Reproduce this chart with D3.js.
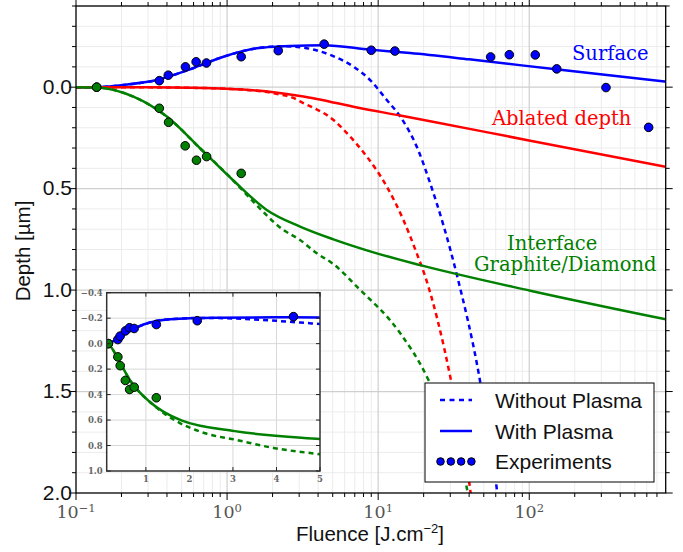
<!DOCTYPE html>
<html>
<head>
<meta charset="utf-8">
<script src="https://cdn.jsdelivr.net/npm/d3@7"></script>
<style>
  html, body { margin: 0; padding: 0; background: #fff; }
  svg { display: block; }
</style>
</head>
<body>
<svg id="chart" width="683" height="552"></svg>
<script>
// ---- Experimental points (fluence J/cm², depth µm; negative = above the initial surface)
const expSurfaceFluence = [0.137, 0.356, 0.408, 0.53, 0.624, 0.73, 1.24, 2.18, 4.39, 9.0, 12.9, 55.5, 73.8, 109.6, 152, 322, 617];
const expSurfaceDepth   = [0, -0.032, -0.059, -0.10, -0.125, -0.119, -0.15, -0.18, -0.212, -0.182, -0.178, -0.149, -0.16, -0.159, -0.09, 0.002, 0.198];
const expInterfaceFluence = [0.137, 0.356, 0.41, 0.528, 0.627, 0.732, 1.24];
const expInterfaceDepth   = [0, 0.104, 0.173, 0.289, 0.36, 0.342, 0.425];

// ---- Model: surface position
const surfPlasmaF = [0.1, 0.137, 0.206, 0.342, 0.569, 0.945, 1.57, 2.61, 4.35, 8.85, 16.3, 40, 150, 800];
const surfPlasma  = [0, 0, -0.011, -0.035, -0.088, -0.150, -0.192, -0.203, -0.207, -0.185, -0.168, -0.137, -0.088, -0.027];
const surfNoPlasmaF = [0.1, 0.137, 0.206, 0.342, 0.569, 0.945, 1.57, 2.3, 3.04, 4.81, 6.87, 8.85, 11.4, 14.0, 18.0, 22.1, 33.2, 46.7, 61.1, 66];
const surfNoPlasma  = [0, 0, -0.011, -0.035, -0.088, -0.150, -0.192, -0.202, -0.197, -0.159, -0.101, -0.035, 0.063, 0.145, 0.293, 0.474, 0.926, 1.427, 1.985, 2.2];

// ---- Model: ablated depth
const ablPlasmaF = [0.1, 0.309, 0.569, 1.0, 1.57, 2.03, 3.04, 3.93, 7.23, 14.0, 22.1, 50, 101.6, 800];
const ablPlasma  = [0, 0.001, 0.003, 0.008, 0.017, 0.025, 0.043, 0.058, 0.1, 0.140, 0.168, 0.219, 0.264, 0.392];
const ablNoPlasmaF = [0.1, 0.309, 0.569, 1.0, 1.57, 2.2, 2.75, 3.04, 5.06, 6.53, 8.41, 11.4, 14.7, 18.0, 20.5, 30.0, 40.6, 44];
const ablNoPlasma  = [0, 0.001, 0.003, 0.008, 0.018, 0.035, 0.053, 0.07, 0.162, 0.244, 0.342, 0.49, 0.655, 0.819, 0.934, 1.427, 1.98, 2.2];

// ---- Model: graphite/diamond interface
const ifPlasmaF = [0.1, 0.137, 0.24, 0.399, 0.662, 1.10, 1.83, 3.04, 5.06, 9.79, 19.0, 101.6, 800];
const ifPlasma  = [0, 0.002, 0.047, 0.145, 0.301, 0.46, 0.605, 0.687, 0.75, 0.819, 0.877, 1.003, 1.144];
const ifNoPlasmaF = [0.1, 0.137, 0.24, 0.399, 0.662, 1.10, 1.42, 2.36, 3.04, 3.93, 5.06, 7.23, 14.0, 21.0, 38.6, 42];
const ifNoPlasma  = [0, 0.002, 0.047, 0.145, 0.301, 0.46, 0.548, 0.704, 0.753, 0.819, 0.872, 0.983, 1.213, 1.427, 1.975, 2.2];

// ---- Axis ticks
const xTickExponents = [-1, 0, 1, 2];
const yTickValues = [0.0, 0.5, 1.0, 1.5, 2.0];
const yTickLabels = ["0.0", "0.5", "1.0", "1.5", "2.0"];
const insetXTicks = [1, 2, 3, 4, 5];
const insetYTicks = [-0.4, -0.2, 0.0, 0.2, 0.4, 0.6, 0.8, 1.0];
const insetYTickLabels = ["\u22120.4", "\u22120.2", "0.0", "0.2", "0.4", "0.6", "0.8", "1.0"];

const legendLabels = ["Without Plasma", "With Plasma", "Experiments"];

const BLUE = "#0000ff", RED = "#ff0000", GREEN = "#008000";

const zip = (xs, ys) => xs.map((x, i) => [x, ys[i]]);

const svg = d3.select("#chart");

// ================= Main plot =================
const M = { left: 76, right: 665.7, top: 6, bottom: 493 };
const x = d3.scaleLog().domain([0.1, 800]).range([M.left, M.right]);
const y = d3.scaleLinear().domain([-0.4, 2.0]).range([M.top, M.bottom]);

const defs = svg.append("defs");
defs.append("clipPath").attr("id", "mainClip")
  .append("rect").attr("x", M.left).attr("y", M.top)
  .attr("width", M.right - M.left).attr("height", M.bottom - M.top);

// Grid
const xMinor = [];
for (let e = -1; e <= 2; e++) for (let m = 2; m <= 9; m++) {
  const v = m * Math.pow(10, e);
  if (v < 800) xMinor.push(v);
}
const xMajor = xTickExponents.map(e => Math.pow(10, e));
const yMinor = d3.range(-4, 21).map(i => i / 10).filter(v => Math.abs(v * 2 - Math.round(v * 2)) > 1e-6);
const yMajor = [0.0, 0.5, 1.0, 1.5];

const grid = svg.append("g");
grid.selectAll(".gxm").data(xMinor).join("line")
  .attr("x1", d => x(d)).attr("x2", d => x(d)).attr("y1", M.top).attr("y2", M.bottom)
  .attr("stroke", "#ececec").attr("stroke-width", 1);
grid.selectAll(".gym").data(yMinor).join("line")
  .attr("y1", d => y(d)).attr("y2", d => y(d)).attr("x1", M.left).attr("x2", M.right)
  .attr("stroke", "#ececec").attr("stroke-width", 1);
grid.selectAll(".gxM").data(xMajor.slice(1)).join("line")
  .attr("x1", d => x(d)).attr("x2", d => x(d)).attr("y1", M.top).attr("y2", M.bottom)
  .attr("stroke", "#cfcfcf").attr("stroke-width", 1.2);
grid.selectAll(".gyM").data(yMajor).join("line")
  .attr("y1", d => y(d)).attr("y2", d => y(d)).attr("x1", M.left).attr("x2", M.right)
  .attr("stroke", "#cfcfcf").attr("stroke-width", 1.2);

// Curves: dashed (without plasma) underneath, solid (with plasma) on top
const lineMain = d3.line().x(d => x(d[0])).y(d => y(d[1])).curve(d3.curveMonotoneX);
const curvesG = svg.append("g").attr("clip-path", "url(#mainClip)");
const dashed = [
  [surfNoPlasmaF, surfNoPlasma, BLUE],
  [ablNoPlasmaF, ablNoPlasma, RED],
  [ifNoPlasmaF, ifNoPlasma, GREEN]
];
const solid = [
  [surfPlasmaF, surfPlasma, BLUE],
  [ablPlasmaF, ablPlasma, RED],
  [ifPlasmaF, ifPlasma, GREEN]
];
dashed.forEach(([fx, dy, c]) => {
  curvesG.append("path").attr("d", lineMain(zip(fx, dy)))
    .attr("fill", "none").attr("stroke", c).attr("stroke-width", 2.5)
    .attr("stroke-dasharray", "5,4");
});
solid.forEach(([fx, dy, c]) => {
  curvesG.append("path").attr("d", lineMain(zip(fx, dy)))
    .attr("fill", "none").attr("stroke", c).attr("stroke-width", 2.5);
});

// Experimental points
const ptsG = svg.append("g").attr("clip-path", "url(#mainClip)");
ptsG.selectAll(".ps").data(zip(expSurfaceFluence, expSurfaceDepth)).join("circle")
  .attr("cx", d => x(d[0])).attr("cy", d => y(d[1])).attr("r", 4.3)
  .attr("fill", BLUE).attr("stroke", "#000").attr("stroke-width", 1);
ptsG.selectAll(".pi").data(zip(expInterfaceFluence, expInterfaceDepth)).join("circle")
  .attr("cx", d => x(d[0])).attr("cy", d => y(d[1])).attr("r", 4.3)
  .attr("fill", GREEN).attr("stroke", "#000").attr("stroke-width", 1);

// Frame
svg.append("rect").attr("x", M.left).attr("y", M.top)
  .attr("width", M.right - M.left).attr("height", M.bottom - M.top)
  .attr("fill", "none").attr("stroke", "#000").attr("stroke-width", 1.3);

// Ticks (outward on all sides)
const tk = svg.append("g").attr("stroke", "#000").attr("stroke-width", 1);
xMinor.forEach(v => {
  tk.append("line").attr("x1", x(v)).attr("x2", x(v)).attr("y1", M.bottom).attr("y2", M.bottom + 4);
  tk.append("line").attr("x1", x(v)).attr("x2", x(v)).attr("y1", M.top).attr("y2", M.top - 4);
});
xMajor.forEach(v => {
  tk.append("line").attr("x1", x(v)).attr("x2", x(v)).attr("y1", M.bottom).attr("y2", M.bottom + 7);
  tk.append("line").attr("x1", x(v)).attr("x2", x(v)).attr("y1", M.top).attr("y2", M.top - 7);
});
yMinor.forEach(v => {
  tk.append("line").attr("y1", y(v)).attr("y2", y(v)).attr("x1", M.left).attr("x2", M.left - 4);
  tk.append("line").attr("y1", y(v)).attr("y2", y(v)).attr("x1", M.right).attr("x2", M.right + 4);
});
yTickValues.forEach(v => {
  tk.append("line").attr("y1", y(v)).attr("y2", y(v)).attr("x1", M.left).attr("x2", M.left - 7);
  tk.append("line").attr("y1", y(v)).attr("y2", y(v)).attr("x1", M.right).attr("x2", M.right + 7);
});

// Y tick labels
svg.append("g").selectAll("text").data(yTickValues).join("text")
  .attr("x", M.left - 4).attr("y", d => y(d) + 6.8)
  .attr("text-anchor", "end")
  .attr("font-family", "Liberation Sans, Arial, sans-serif").attr("font-size", 21)
  .attr("fill", "#111")
  .text((d, i) => yTickLabels[i]);

// X tick labels: 10^k
const xl = svg.append("g");
xTickExponents.forEach(e => {
  const t = xl.append("text")
    .attr("x", x(Math.pow(10, e))).attr("y", 518)
    .attr("text-anchor", "middle")
    .attr("font-family", "DejaVu Serif, serif").attr("font-size", 17.5)
    .attr("fill", "#555");
  t.append("tspan").text("10");
  t.append("tspan").attr("dy", -6.5).attr("font-size", 11.5)
    .text(e < 0 ? "\u2212" + Math.abs(e) : String(e));
});

// Axis titles
const xt = svg.append("text")
  .attr("x", 370).attr("y", 540.5).attr("text-anchor", "middle")
  .attr("font-family", "Liberation Sans, Arial, sans-serif").attr("font-size", 20.5)
  .attr("fill", "#111");
xt.append("tspan").text("Fluence [J.cm");
xt.append("tspan").attr("dy", -8).attr("font-size", 13).text("\u22122");
xt.append("tspan").attr("dy", 8).text("]");

svg.append("text")
  .attr("transform", "translate(30,251) rotate(-90)")
  .attr("text-anchor", "middle")
  .attr("font-family", "Liberation Sans, Arial, sans-serif").attr("font-size", 20.5)
  .attr("fill", "#111")
  .text("Depth [\u00b5m]");

// Curve annotations
const ann = svg.append("g").attr("font-family", "DejaVu Serif, serif").attr("font-size", 19.5);
ann.append("text").attr("x", 572).attr("y", 60).attr("fill", BLUE).text("Surface");
ann.append("text").attr("x", 492).attr("y", 125).attr("fill", RED).text("Ablated depth");
ann.append("text").attr("x", 507).attr("y", 250).attr("fill", GREEN).text("Interface");
ann.append("text").attr("x", 474).attr("y", 271).attr("fill", GREEN).text("Graphite/Diamond");

// ================= Inset (linear fluence axis) =================
const I = { left: 106.7, right: 320, top: 292.7, bottom: 471 };
const xi = d3.scaleLinear().domain([0.1, 5]).range([I.left, I.right]);
const yi = d3.scaleLinear().domain([-0.4, 1.0]).range([I.top, I.bottom]);

defs.append("clipPath").attr("id", "insetClip")
  .append("rect").attr("x", I.left).attr("y", I.top)
  .attr("width", I.right - I.left).attr("height", I.bottom - I.top);

const inset = svg.append("g");
inset.append("rect").attr("x", I.left).attr("y", I.top)
  .attr("width", I.right - I.left).attr("height", I.bottom - I.top)
  .attr("fill", "#fff");

inset.selectAll(".igx").data(insetXTicks.slice(0, -1)).join("line")
  .attr("x1", d => xi(d)).attr("x2", d => xi(d)).attr("y1", I.top).attr("y2", I.bottom)
  .attr("stroke", "#d8d8d8").attr("stroke-width", 1);
inset.selectAll(".igy").data(insetYTicks.slice(1, -1)).join("line")
  .attr("y1", d => yi(d)).attr("y2", d => yi(d)).attr("x1", I.left).attr("x2", I.right)
  .attr("stroke", "#d8d8d8").attr("stroke-width", 1);

const lineInset = d3.line().x(d => xi(d[0])).y(d => yi(d[1])).curve(d3.curveMonotoneX);
const ic = inset.append("g").attr("clip-path", "url(#insetClip)");
[[surfNoPlasmaF, surfNoPlasma, BLUE], [ifNoPlasmaF, ifNoPlasma, GREEN]].forEach(([fx, dy, c]) => {
  ic.append("path").attr("d", lineInset(zip(fx, dy)))
    .attr("fill", "none").attr("stroke", c).attr("stroke-width", 2.5)
    .attr("stroke-dasharray", "5,4");
});
[[surfPlasmaF, surfPlasma, BLUE], [ifPlasmaF, ifPlasma, GREEN]].forEach(([fx, dy, c]) => {
  ic.append("path").attr("d", lineInset(zip(fx, dy)))
    .attr("fill", "none").attr("stroke", c).attr("stroke-width", 2.5);
});
const ip = inset.append("g").attr("clip-path", "url(#insetClip)");
ip.selectAll(".ips").data(zip(expSurfaceFluence, expSurfaceDepth).filter(d => d[0] <= 5)).join("circle")
  .attr("cx", d => xi(d[0])).attr("cy", d => yi(d[1])).attr("r", 4.3)
  .attr("fill", BLUE).attr("stroke", "#000").attr("stroke-width", 1);
ip.selectAll(".ipi").data(zip(expInterfaceFluence, expInterfaceDepth)).join("circle")
  .attr("cx", d => xi(d[0])).attr("cy", d => yi(d[1])).attr("r", 4.3)
  .attr("fill", GREEN).attr("stroke", "#000").attr("stroke-width", 1);

// Inset frame and inward ticks
inset.append("rect").attr("x", I.left).attr("y", I.top)
  .attr("width", I.right - I.left).attr("height", I.bottom - I.top)
  .attr("fill", "none").attr("stroke", "#333").attr("stroke-width", 1.5);
const itk = inset.append("g").attr("stroke", "#222").attr("stroke-width", 1);
insetXTicks.forEach(v => {
  itk.append("line").attr("x1", xi(v)).attr("x2", xi(v)).attr("y1", I.bottom).attr("y2", I.bottom - 4);
  itk.append("line").attr("x1", xi(v)).attr("x2", xi(v)).attr("y1", I.top).attr("y2", I.top + 4);
});
insetYTicks.forEach(v => {
  itk.append("line").attr("y1", yi(v)).attr("y2", yi(v)).attr("x1", I.left).attr("x2", I.left + 4);
  itk.append("line").attr("y1", yi(v)).attr("y2", yi(v)).attr("x1", I.right).attr("x2", I.right - 4);
});
inset.append("g").selectAll("text").data(insetYTicks).join("text")
  .attr("x", I.left - 4).attr("y", d => yi(d) + 3.2)
  .attr("text-anchor", "end")
  .attr("font-family", "DejaVu Serif, serif").attr("font-size", 8.5).attr("font-weight", "bold")
  .attr("fill", "#666")
  .text((d, i) => insetYTickLabels[i]);
inset.append("g").selectAll("text").data(insetXTicks).join("text")
  .attr("x", d => xi(d)).attr("y", I.bottom + 11)
  .attr("text-anchor", "middle")
  .attr("font-family", "DejaVu Serif, serif").attr("font-size", 8.5).attr("font-weight", "bold")
  .attr("fill", "#666")
  .text(d => d);

// ================= Legend =================
const L = { x: 425, y: 383, w: 229, h: 99 };
const lg = svg.append("g");
lg.append("rect").attr("x", L.x).attr("y", L.y).attr("width", L.w).attr("height", L.h)
  .attr("fill", "#fff").attr("stroke", "#000").attr("stroke-width", 1);
const rowY = [400, 431, 461.5];
lg.append("line").attr("x1", 440).attr("x2", 472).attr("y1", rowY[0]).attr("y2", rowY[0])
  .attr("stroke", BLUE).attr("stroke-width", 2.5).attr("stroke-dasharray", "5,4.5");
lg.append("line").attr("x1", 440).attr("x2", 472).attr("y1", rowY[1]).attr("y2", rowY[1])
  .attr("stroke", BLUE).attr("stroke-width", 2.5);
lg.selectAll(".ld").data([0, 1, 2, 3]).join("circle")
  .attr("cx", d => 440.5 + d * 10.3).attr("cy", rowY[2]).attr("r", 3.8)
  .attr("fill", BLUE).attr("stroke", "#000").attr("stroke-width", 1);
lg.selectAll("text").data(legendLabels).join("text")
  .attr("x", 495).attr("y", (d, i) => rowY[i] + 7.5)
  .attr("font-family", "Liberation Sans, Arial, sans-serif").attr("font-size", 21)
  .attr("fill", "#111")
  .text(d => d);
</script>
</body>
</html>
